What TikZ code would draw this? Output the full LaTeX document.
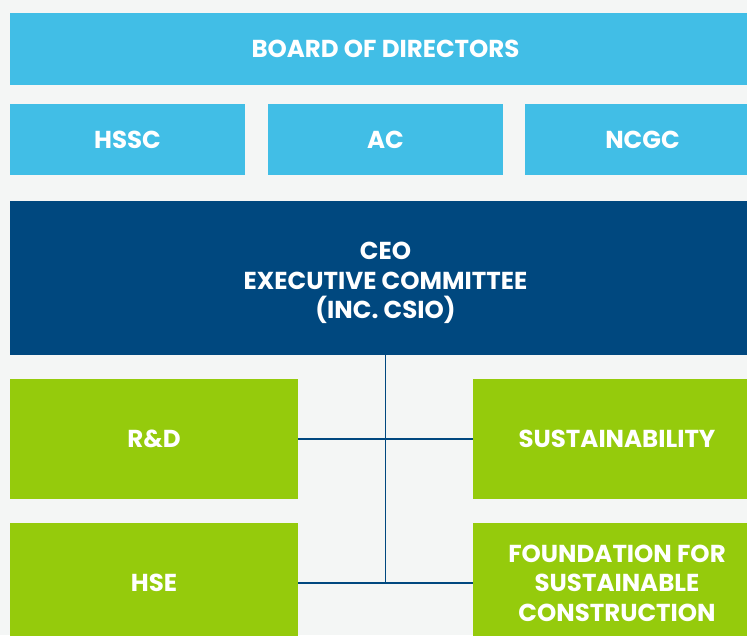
\documentclass[tikz,border=0pt]{standalone}
\usepackage{fontspec}
\setmainfont{Poppins}
\usepackage{tikz}
\usetikzlibrary{positioning}
\definecolor{bglight}{HTML}{F4F6F5}
\definecolor{boardblue}{HTML}{41BEE6}
\definecolor{ceoblue}{HTML}{00487F}
\definecolor{leafgreen}{HTML}{95CB0C}
\tikzset{
    box/.style={rectangle, inner sep=0pt, text=white, align=center,
        font=\fontsize{24.5}{29.5}\selectfont\bfseries},
    board/.style={box, fill=boardblue},
    committee/.style={box, fill=ceoblue},
    unit/.style={box, fill=leafgreen},
    link/.style={draw=ceoblue, line width=1.2pt},
}
\begin{document}
\begin{tikzpicture}[x=1pt, y=-1pt]
	\clip (0,0) rectangle (747,635);
	\fill[bglight] (0,0) rectangle (747,635);
	\node[board, minimum width=751pt, minimum height=72pt] (bod) at (385.5,49) {BOARD OF DIRECTORS};
	\node[board, minimum width=235pt, minimum height=71pt] (hssc) at (127.5,139.5) {HSSC};
	\node[board, minimum width=235pt, minimum height=71pt] (ac) at (385.5,139.5) {AC};
	\node[board, minimum width=235pt, minimum height=71pt] (ncgc) at (642.5,139.5) {NCGC};
	\node[committee, minimum width=751pt, minimum height=154pt,
		label={[box, yshift=-5pt]center:CEO\\EXECUTIVE COMMITTEE\\(INC. CSIO)}] (ceo) at (385.5,278) {};
	\node[unit, minimum width=288pt, minimum height=120pt] (rd) at (154,439) {R\&D};
	\node[unit, minimum width=288pt, minimum height=120pt] (sust) at (617,439) {SUSTAINABILITY};
	\node[unit, minimum width=288pt, minimum height=120pt] (hse) at (154,583) {HSE};
	\node[unit, minimum width=288pt, minimum height=120pt] (fsc) at (617,583) {FOUNDATION FOR\\SUSTAINABLE\\CONSTRUCTION};
	\coordinate (spine) at (385.5,583);
	\draw[link] (ceo.south) -- (spine);
	\draw[link] (rd.east) -- (sust.west);
	\draw[link] (hse.east) -- (fsc.west);
\end{tikzpicture}
\end{document}
